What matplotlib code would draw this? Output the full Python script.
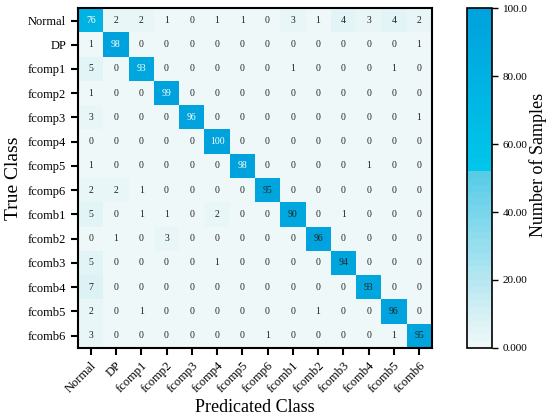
import numpy as np
import matplotlib

matplotlib.use("Agg")
import matplotlib.pyplot as plt
from matplotlib.colors import LinearSegmentedColormap

plt.rcParams["font.family"] = ["Liberation Serif", "DejaVu Serif"]

CLASSES = ["Normal", "DP", "fcomp1", "fcomp2", "fcomp3", "fcomp4", "fcomp5",
           "fcomp6", "fcomb1", "fcomb2", "fcomb3", "fcomb4", "fcomb5", "fcomb6"]

CONF = np.array([
    [76, 2, 2, 1, 0, 1, 1, 0, 3, 1, 4, 3, 4, 2],
    [1, 98, 0, 0, 0, 0, 0, 0, 0, 0, 0, 0, 0, 1],
    [5, 0, 93, 0, 0, 0, 0, 0, 1, 0, 0, 0, 1, 0],
    [1, 0, 0, 99, 0, 0, 0, 0, 0, 0, 0, 0, 0, 0],
    [3, 0, 0, 0, 96, 0, 0, 0, 0, 0, 0, 0, 0, 1],
    [0, 0, 0, 0, 0, 100, 0, 0, 0, 0, 0, 0, 0, 0],
    [1, 0, 0, 0, 0, 0, 98, 0, 0, 0, 0, 1, 0, 0],
    [2, 2, 1, 0, 0, 0, 0, 95, 0, 0, 0, 0, 0, 0],
    [5, 0, 1, 1, 0, 2, 0, 0, 90, 0, 1, 0, 0, 0],
    [0, 1, 0, 3, 0, 0, 0, 0, 0, 96, 0, 0, 0, 0],
    [5, 0, 0, 0, 0, 1, 0, 0, 0, 0, 94, 0, 0, 0],
    [7, 0, 0, 0, 0, 0, 0, 0, 0, 0, 0, 93, 0, 0],
    [2, 0, 1, 0, 0, 0, 0, 0, 0, 1, 0, 0, 96, 0],
    [3, 0, 0, 0, 0, 0, 0, 1, 0, 0, 0, 0, 1, 95],
])

CBAR_TICKS = [0, 20, 40, 60, 80, 100]
CBAR_LABELS = ["0.000", "20.00", "40.00", "60.00", "80.00", "100.0"]

# white text on the first few diagonal cells, dark on the rest
WHITE_TEXT_UNTIL = 7

cmap = LinearSegmentedColormap.from_list(
    "samples",
    [(0.0, "#eff8f8"), (0.52, "#55cbe7"), (0.525, "#00c6ea"), (1.0, "#00a2dd")],
    N=50,
)

fig = plt.figure(figsize=(5.5, 4.19), dpi=100)
ax = fig.add_axes([0.142, 0.17, 0.643, 0.81])
cax = fig.add_axes([0.849, 0.17, 0.046, 0.81])

n = len(CLASSES)
im = ax.imshow(CONF, cmap=cmap, vmin=0, vmax=100, aspect="auto",
               interpolation="nearest")

for i in range(n):
    for j in range(n):
        v = CONF[i, j]
        color = "white" if (i == j and i < WHITE_TEXT_UNTIL) else "#222222"
        ax.text(j, i, str(v), ha="center", va="center", fontsize=7, color=color)

ax.set_xticks(range(n))
ax.set_yticks(range(n))
ax.set_xticklabels(CLASSES, rotation=45, ha="right", rotation_mode="anchor",
                   fontsize=9)
ax.set_yticklabels(CLASSES, fontsize=9)
ax.tick_params(axis="both", length=5, width=1.5, direction="out")
for s in ax.spines.values():
    s.set_linewidth(1.5)
ax.set_xlabel("Predicated Class", fontsize=13, labelpad=3)
ax.set_ylabel("True Class", fontsize=14, labelpad=4)

cb = fig.colorbar(im, cax=cax, ticks=CBAR_TICKS)
cb.ax.set_yticklabels(CBAR_LABELS, fontsize=8)
cb.ax.tick_params(length=4, width=1)
cb.outline.set_linewidth(1.2)
cb.set_label("Number of Samples", fontsize=13, labelpad=1)
cb.ax.yaxis.label.set_y(0.54)

fig.savefig("out.png", dpi=100)
